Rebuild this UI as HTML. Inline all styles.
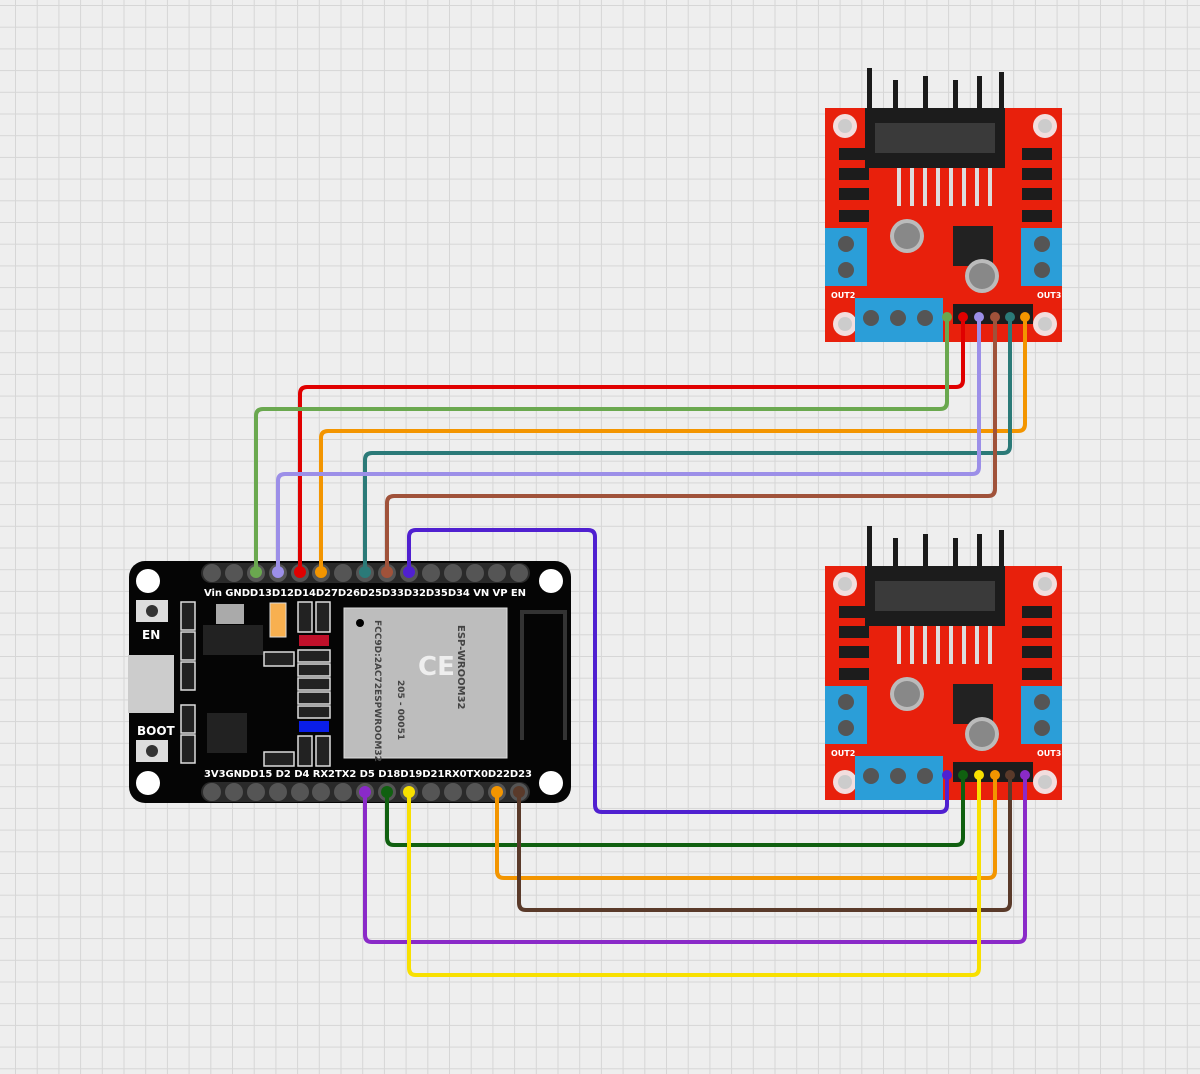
<!DOCTYPE html>
<html><head><meta charset="utf-8"><style>
html,body{margin:0;padding:0;background:#eee}
svg{display:block}
text{font-family:"DejaVu Sans","Liberation Sans",sans-serif;font-weight:bold}
</style></head><body>
<svg width="1200" height="1074" viewBox="0 0 1200 1074" xmlns="http://www.w3.org/2000/svg">
<defs>
<pattern id="g" x="15" y="5" width="21.7" height="21.7" patternUnits="userSpaceOnUse">
<rect width="21.7" height="21.7" fill="#eeeeee"/>
<path d="M0 0H21.7M0 0V21.7" stroke="#d6d6d6" stroke-width="2" fill="none"/>
</pattern>
<g id="mod">
<g fill="#1a1a1a">
<rect x="42" y="0" width="5" height="60"/><rect x="68" y="12" width="5" height="50"/><rect x="98" y="8" width="5" height="50"/><rect x="128" y="12" width="5" height="50"/><rect x="152" y="8" width="5" height="50"/><rect x="174" y="4" width="5" height="60"/>
</g>
<rect x="0" y="40" width="237" height="234" fill="#e8200c"/>
<rect x="40" y="40" width="140" height="60" fill="#1c1c1c"/>
<rect x="50" y="55" width="120" height="30" fill="#3a3a3a"/>
<g fill="#ddd"><rect x="72" y="100" width="4" height="38"/><rect x="85" y="100" width="4" height="38"/><rect x="98" y="100" width="4" height="38"/><rect x="111" y="100" width="4" height="38"/><rect x="124" y="100" width="4" height="38"/><rect x="137" y="100" width="4" height="38"/><rect x="150" y="100" width="4" height="38"/><rect x="163" y="100" width="4" height="38"/></g>
<circle cx="20" cy="58" r="12" fill="#f2dede"/><circle cx="20" cy="58" r="7" fill="#ccc"/>
<circle cx="220" cy="58" r="12" fill="#f2dede"/><circle cx="220" cy="58" r="7" fill="#ccc"/>
<circle cx="20" cy="256" r="12" fill="#f2dede"/><circle cx="20" cy="256" r="7" fill="#ccc"/>
<circle cx="220" cy="256" r="12" fill="#f2dede"/><circle cx="220" cy="256" r="7" fill="#ccc"/>
<g fill="#1c1c1c"><rect x="14" y="80" width="30" height="12"/><rect x="14" y="100" width="30" height="12"/><rect x="14" y="120" width="30" height="12"/><rect x="14" y="142" width="30" height="12"/>
<rect x="197" y="80" width="30" height="12"/><rect x="197" y="100" width="30" height="12"/><rect x="197" y="120" width="30" height="12"/><rect x="197" y="142" width="30" height="12"/></g>
<rect x="128" y="158" width="40" height="40" fill="#222"/>
<circle cx="82" cy="168" r="17" fill="#bbb"/><circle cx="82" cy="168" r="13" fill="#888"/>
<circle cx="157" cy="208" r="17" fill="#bbb"/><circle cx="157" cy="208" r="13" fill="#888"/>
<rect x="0" y="160" width="42" height="58" fill="#2b9ed8"/><circle cx="21" cy="176" r="8" fill="#555"/><circle cx="21" cy="202" r="8" fill="#555"/>
<rect x="196" y="160" width="41" height="58" fill="#2b9ed8"/><circle cx="217" cy="176" r="8" fill="#555"/><circle cx="217" cy="202" r="8" fill="#555"/>
<rect x="30" y="230" width="88" height="44" fill="#2b9ed8"/><circle cx="46" cy="250" r="8" fill="#555"/><circle cx="73" cy="250" r="8" fill="#555"/><circle cx="100" cy="250" r="8" fill="#555"/>
<rect x="128" y="236" width="80" height="20" fill="#1c1c1c"/>
<text x="6" y="230" font-size="8" fill="#fff">OUT2</text><text x="212" y="230" font-size="8" fill="#fff">OUT3</text>
</g>
</defs>
<rect width="1200" height="1074" fill="url(#g)"/>

<use href="#mod" x="825" y="68"/>
<use href="#mod" x="825" y="526"/>

<rect x="129" y="561" width="442" height="242" rx="16" fill="#050505"/>
<rect x="201" y="563" width="329" height="20" rx="10" fill="#2a2a2a"/>
<rect x="201" y="782" width="329" height="20" rx="10" fill="#2a2a2a"/>
<circle cx="148" cy="581" r="12" fill="#fff"/><circle cx="551" cy="581" r="12" fill="#fff"/>
<circle cx="148" cy="783" r="12" fill="#fff"/><circle cx="551" cy="783" r="12" fill="#fff"/>
<g fill="#555">
<circle cx="212" cy="573" r="9"/><circle cx="234" cy="573" r="9"/><circle cx="256" cy="573" r="9"/><circle cx="278" cy="573" r="9"/><circle cx="300" cy="573" r="9"/><circle cx="321" cy="573" r="9"/><circle cx="343" cy="573" r="9"/><circle cx="365" cy="573" r="9"/><circle cx="387" cy="573" r="9"/><circle cx="409" cy="573" r="9"/><circle cx="431" cy="573" r="9"/><circle cx="453" cy="573" r="9"/><circle cx="475" cy="573" r="9"/><circle cx="497" cy="573" r="9"/><circle cx="519" cy="573" r="9"/>
<circle cx="212" cy="792" r="9"/><circle cx="234" cy="792" r="9"/><circle cx="256" cy="792" r="9"/><circle cx="278" cy="792" r="9"/><circle cx="300" cy="792" r="9"/><circle cx="321" cy="792" r="9"/><circle cx="343" cy="792" r="9"/><circle cx="365" cy="792" r="9"/><circle cx="387" cy="792" r="9"/><circle cx="409" cy="792" r="9"/><circle cx="431" cy="792" r="9"/><circle cx="453" cy="792" r="9"/><circle cx="475" cy="792" r="9"/><circle cx="497" cy="792" r="9"/><circle cx="519" cy="792" r="9"/>
</g>
<text x="204" y="596" font-size="10" fill="#fff" textLength="322">Vin GNDD13D12D14D27D26D25D33D32D35D34  VN  VP  EN</text>
<text x="204" y="777" font-size="10" fill="#fff" textLength="328">3V3GNDD15 D2  D4  RX2TX2 D5  D18D19D21RX0TX0D22D23</text>
<rect x="344" y="608" width="163" height="150" fill="#bdbdbd" stroke="#ddd"/>
<circle cx="360" cy="623" r="4" fill="#000"/>
<text x="0" y="0" font-size="10" fill="#444" transform="translate(458,625) rotate(90)">ESP-WROOM32</text>
<text x="0" y="0" font-size="9" fill="#444" transform="translate(375,620) rotate(90)">FCC9D:2AC72ESPWROOM32</text>
<text x="0" y="0" font-size="9" fill="#444" transform="translate(398,680) rotate(90)">205 - 00051</text>
<text x="418" y="675" font-size="26" fill="#eee" font-weight="normal">CE</text>
<path d="M522 740V612H565V740" stroke="#333" stroke-width="4" fill="none"/>
<rect x="136" y="600" width="32" height="22" fill="#ddd"/><circle cx="152" cy="611" r="6" fill="#333"/>
<rect x="136" y="740" width="32" height="22" fill="#ddd"/><circle cx="152" cy="751" r="6" fill="#333"/>
<text x="142" y="639" font-size="12" fill="#fff">EN</text>
<text x="137" y="735" font-size="12" fill="#fff">BOOT</text>
<rect x="128" y="655" width="46" height="58" fill="#ccc"/>
<g fill="#222" stroke="#ddd" stroke-width="1.5">
<rect x="181" y="602" width="14" height="28"/><rect x="181" y="632" width="14" height="28"/><rect x="181" y="662" width="14" height="28"/><rect x="181" y="705" width="14" height="28"/><rect x="181" y="735" width="14" height="28"/>
<rect x="298" y="602" width="14" height="30"/><rect x="316" y="602" width="14" height="30"/>
<rect x="298" y="650" width="32" height="12"/><rect x="298" y="664" width="32" height="12"/><rect x="298" y="678" width="32" height="12"/><rect x="298" y="692" width="32" height="12"/><rect x="298" y="706" width="32" height="12"/>
<rect x="298" y="736" width="14" height="30"/><rect x="316" y="736" width="14" height="30"/>
<rect x="264" y="652" width="30" height="14"/><rect x="264" y="752" width="30" height="14"/>
</g>
<rect x="299" y="635" width="30" height="11" fill="#c0102a"/>
<rect x="299" y="721" width="30" height="11" fill="#0a1ee8"/>
<rect x="270" y="603" width="16" height="34" fill="#f8b050" stroke="#ddd"/>
<rect x="203" y="625" width="60" height="30" fill="#222"/><rect x="216" y="604" width="28" height="20" fill="#aaa"/>
<rect x="207" y="713" width="40" height="40" fill="#222"/>

<g fill="none" stroke-width="4" stroke-linejoin="round" stroke-linecap="round">
<path d="M963 317V380Q963 387 956 387H307Q300 387 300 394V572" stroke="#e00000"/>
<path d="M947 317V402Q947 409 940 409H263Q256 409 256 416V572" stroke="#6aa84f"/>
<path d="M1025 317V424Q1025 431 1018 431H328Q321 431 321 438V572" stroke="#f39500"/>
<path d="M1010 317V446Q1010 453 1003 453H372Q365 453 365 460V572" stroke="#2b7a78"/>
<path d="M979 317V467Q979 474 972 474H285Q278 474 278 481V572" stroke="#9c8fe8"/>
<path d="M995 317V489Q995 496 988 496H394Q387 496 387 503V572" stroke="#a0523a"/>
<path d="M409 572V537Q409 530 416 530H588Q595 530 595 537V805Q595 812 602 812H940Q947 812 947 805V775" stroke="#5020d0"/>
<path d="M387 792V838Q387 845 394 845H956Q963 845 963 838V775" stroke="#106010"/>
<path d="M497 792V871Q497 878 504 878H988Q995 878 995 871V775" stroke="#f39500"/>
<path d="M519 792V903Q519 910 526 910H1003Q1010 910 1010 903V775" stroke="#5a3a2a"/>
<path d="M365 792V935Q365 942 372 942H1018Q1025 942 1025 935V775" stroke="#8a2ac8"/>
<path d="M409 792V968Q409 975 416 975H972Q979 975 979 968V775" stroke="#f8e000"/>
</g>
<g>
<circle cx="947" cy="317" r="5" fill="#6aa84f"/><circle cx="963" cy="317" r="5" fill="#e00000"/><circle cx="979" cy="317" r="5" fill="#9c8fe8"/><circle cx="995" cy="317" r="5" fill="#a0523a"/><circle cx="1010" cy="317" r="5" fill="#2b7a78"/><circle cx="1025" cy="317" r="5" fill="#f39500"/>
<circle cx="947" cy="775" r="5" fill="#5020d0"/><circle cx="963" cy="775" r="5" fill="#106010"/><circle cx="979" cy="775" r="5" fill="#f8e000"/><circle cx="995" cy="775" r="5" fill="#f39500"/><circle cx="1010" cy="775" r="5" fill="#5a3a2a"/><circle cx="1025" cy="775" r="5" fill="#8a2ac8"/>
<circle cx="256" cy="572" r="6" fill="#6aa84f"/><circle cx="278" cy="572" r="6" fill="#9c8fe8"/><circle cx="300" cy="572" r="6" fill="#e00000"/><circle cx="321" cy="572" r="6" fill="#f39500"/><circle cx="365" cy="572" r="6" fill="#2b7a78"/><circle cx="387" cy="572" r="6" fill="#a0523a"/><circle cx="409" cy="572" r="6" fill="#5020d0"/>
<circle cx="365" cy="792" r="6" fill="#8a2ac8"/><circle cx="387" cy="792" r="6" fill="#106010"/><circle cx="409" cy="792" r="6" fill="#f8e000"/><circle cx="497" cy="792" r="6" fill="#f39500"/><circle cx="519" cy="792" r="6" fill="#5a3a2a"/>
</g>
</svg>
</body></html>
